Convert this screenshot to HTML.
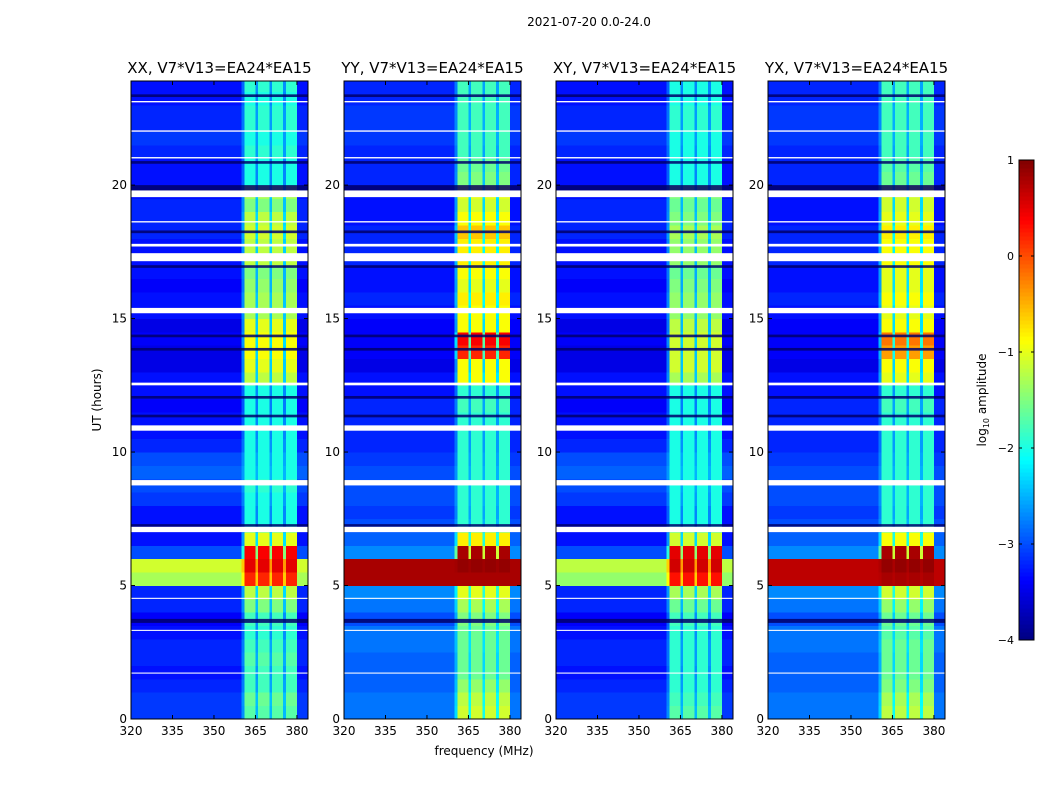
<!DOCTYPE html>
<html><head><meta charset="utf-8"><style>
body{margin:0;background:#fff;font-family:"Liberation Sans",sans-serif}
svg text{font-family:"DejaVu Sans","Liberation Sans",sans-serif}
</style></head><body>
<svg id="fig" width="1050" height="800" xmlns="http://www.w3.org/2000/svg">
<rect width="1050" height="800" fill="#fff"/>
<text x="589" y="26" font-size="12" text-anchor="middle">2021-07-20 0.0-24.0</text>
<text x="484" y="755" font-size="12" text-anchor="middle">frequency (MHz)</text>
<text transform="translate(101,400) rotate(-90)" font-size="12" text-anchor="middle">UT (hours)</text>
<text transform="translate(986,400) rotate(-90)" font-size="12" text-anchor="middle">log<tspan font-size="8" dy="3">10</tspan><tspan dy="-3"> amplitude</tspan></text>
<g id="panels"></g>
<g id="cbar"></g>
</svg>
<script>
// ---- data ----
const panelTitles = ["XX, V7*V13=EA24*EA15","YY, V7*V13=EA24*EA15","XY, V7*V13=EA24*EA15","YX, V7*V13=EA24*EA15"];
const xTicks = [320,335,350,365,380];
const yTicks = [0,5,10,15,20];
const cbTicks = [1,0,-1,-2,-3,-4];
// frequency bins 320..384 MHz (1 MHz), RFI band profile
const bandProfile = [0,0,0,0,0,0,0,0,0,0, 0,0,0,0,0,0,0,0,0,0, 0,0,0,0,0,0,0,0,0,0, 0,0,0,0,0,0,0,0,0,0,
  0.3,1,1,1,1,0.45,1,1,1,1, 0.45,1,1,1,1,0.45,1,1,1,1, 0,0,0,0];
// time bins of 0.5 h, 0..24
const bandXX = [-1.7,-1.6,-1.8,-1.8,-1.7,-1.8,-1.9,-1.8,-1.5,-1.2,0.2,0.5,0.4,-1.0,-2.0,-2.0,-2.0,-1.9,-2.0,-2.0,-2.0,-2.0,-2.0,-2.0,-2.0,-1.2,-1.0,-0.9,-0.9,-1.0,-1.3,-1.3,-1.4,-1.5,-1.2,-1.2,-1.1,-1.2,-1.5,-1.3,-2.0,-2.0,-1.9,-2.0,-1.9,-1.9,-2.0,-1.9];
const bandYY = [-1.1,-1.2,-1.4,-1.6,-1.6,-1.6,-1.6,-1.5,-1.3,-1.0,0.8,0.9,0.8,-0.8,-1.9,-1.9,-1.9,-1.9,-1.9,-1.9,-1.9,-1.9,-1.9,-1.8,-1.9,-0.9,-0.9,0.2,0.4,-0.9,-0.9,-0.8,-1.0,-0.9,-0.8,-0.8,-0.6,-0.9,-1.1,-1.0,-1.5,-1.6,-1.8,-1.8,-1.8,-1.8,-1.8,-1.8];
const bandXY = [-1.7,-1.8,-1.9,-1.9,-1.9,-1.9,-1.9,-1.8,-1.6,-1.3,0.3,0.6,0.5,-1.1,-2.0,-2.0,-2.0,-2.0,-2.0,-2.0,-2.0,-2.0,-2.0,-2.0,-2.0,-1.3,-1.1,-1.1,-1.1,-1.2,-1.4,-1.4,-1.5,-1.6,-1.4,-1.4,-1.3,-1.5,-1.6,-1.5,-2.0,-2.0,-2.0,-2.0,-1.9,-1.9,-2.0,-2.0];
const bandYX = [-1.2,-1.3,-1.5,-1.6,-1.6,-1.6,-1.7,-1.6,-1.4,-1.1,0.8,0.9,0.8,-0.9,-1.9,-1.9,-1.9,-1.9,-1.9,-1.9,-1.9,-1.9,-1.9,-1.8,-1.9,-1.0,-0.9,-0.4,-0.2,-0.9,-1.0,-0.9,-1.0,-1.0,-0.9,-0.9,-0.8,-1.0,-1.1,-1.1,-1.6,-1.7,-1.8,-1.8,-1.8,-1.8,-1.8,-1.8];
const bgXX = [-3.1,-3.1,-3.2,-3.3,-3.2,-3.2,-3.3,-3.4,-3.2,-3.2,-1.3,-1.1,-3.0,-3.3,-3.3,-3.3,-3.1,-3.0,-2.9,-3.0,-3.2,-3.3,-3.3,-3.4,-3.3,-3.3,-3.5,-3.5,-3.4,-3.5,-3.3,-3.3,-3.4,-3.3,-3.3,-3.3,-3.2,-3.2,-3.2,-3.3,-3.3,-3.3,-3.2,-3.1,-3.2,-3.2,-3.3,-3.3];
const bgYY = [-2.8,-2.8,-2.9,-2.9,-2.9,-2.8,-2.8,-3.0,-2.8,-2.7,0.8,0.8,-2.7,-2.9,-3.0,-3.1,-3.0,-3.0,-3.0,-3.1,-3.2,-3.2,-3.2,-3.2,-3.3,-3.3,-3.5,-3.4,-3.4,-3.4,-3.3,-3.2,-3.3,-3.3,-3.2,-3.2,-3.2,-3.3,-3.3,-3.3,-3.2,-3.2,-3.2,-3.1,-3.1,-3.1,-3.2,-3.2];
const bgXY = [-3.1,-3.1,-3.2,-3.3,-3.2,-3.2,-3.3,-3.4,-3.2,-3.2,-1.4,-1.2,-3.0,-3.3,-3.3,-3.3,-3.1,-3.0,-2.9,-3.0,-3.2,-3.3,-3.3,-3.4,-3.3,-3.3,-3.5,-3.5,-3.4,-3.5,-3.3,-3.3,-3.4,-3.3,-3.3,-3.3,-3.2,-3.2,-3.2,-3.3,-3.3,-3.3,-3.2,-3.1,-3.2,-3.2,-3.3,-3.3];
const bgYX = [-2.8,-2.8,-2.9,-2.9,-2.9,-2.8,-2.8,-3.0,-2.8,-2.7,0.7,0.7,-2.7,-2.9,-3.0,-3.1,-3.0,-3.0,-3.0,-3.1,-3.2,-3.2,-3.2,-3.2,-3.3,-3.3,-3.5,-3.4,-3.4,-3.4,-3.3,-3.2,-3.3,-3.3,-3.2,-3.2,-3.2,-3.3,-3.3,-3.3,-3.2,-3.2,-3.2,-3.1,-3.1,-3.1,-3.2,-3.2];
// flagged (white) time ranges [start,end] hours
const flagStart = [7.0,8.75,10.8,12.5,15.2,17.15,17.7,19.55,18.6,21.0,22.0,23.1,3.3,4.5,1.7];
const flagEnd   = [7.2,8.95,11.0,12.6,15.4,17.45,17.8,19.8,18.65,21.05,22.05,23.15,3.34,4.54,1.74];
// dark (dropout) time ranges
const darkStart = [3.6,7.2,11.3,12.0,13.8,14.3,18.2,19.8,20.8,23.3,16.9];
const darkEnd   = [3.75,7.3,11.4,12.1,13.9,14.4,18.3,20.0,20.9,23.4,17.0];
const bandLevels = [bandXX,bandYY,bandXY,bandYX];
const bgLevels = [bgXX,bgYY,bgXY,bgYX];

// ---- layout ----
const panelX = [131,344,556,768], panelW = 177, plotTop = 81, plotBot = 719;
const fMin = 320, fMax = 384, tMax = 23.9;
const NS = "http://www.w3.org/2000/svg";
function jet(v){ // v in [-4,1]
  let t = Math.max(0,Math.min(1,(v+4)/5));
  const f = (x)=>Math.max(0,Math.min(1,1.5-Math.abs(4*t-x)));
  const c = [f(3),f(2),f(1)].map(x=>Math.round(x*255));
  return `rgb(${c[0]},${c[1]},${c[2]})`;
}
function mk(tag, attrs, parent){const e=document.createElementNS(NS,tag);for(const k in attrs)e.setAttribute(k,attrs[k]);parent.appendChild(e);return e;}
const panels = document.getElementById('panels');
panelX.forEach((px,p)=>{
  const xs = f => px + (f-fMin)/(fMax-fMin)*panelW;
  const ys = t => plotBot - t/tMax*(plotBot-plotTop);
  const g = mk('g',{},panels);
  
  
  const hm = mk('g',{'shape-rendering':'crispEdges'},g);
  
  
  const band = bandLevels[p], bg = bgLevels[p];
  for(let r=0;r<band.length;r++){
    const t0=r*0.5, t1=Math.min(tMax,(r+1)*0.5);
    for(let c=0;c<bandProfile.length;c++){
      const v = bg[r] + bandProfile[c]*(band[r]-bg[r]);
      const el = mk('rect',{x:xs(fMin+c),y:ys(t1),width:xs(fMin+c+1)-xs(fMin+c)+0.4,height:ys(t0)-ys(t1)+0.4,fill:jet(v)},hm);
      
      
    }
  }
  for(let i=0;i<darkStart.length;i++){
    const el=mk('rect',{x:px,y:ys(darkEnd[i]),width:panelW,height:ys(darkStart[i])-ys(darkEnd[i]),fill:'#00006a',opacity:0.85},g);
    
    
  }
  for(let i=0;i<flagStart.length;i++){
    const el=mk('rect',{x:px,y:ys(flagEnd[i]),width:panelW,height:ys(flagStart[i])-ys(flagEnd[i]),fill:'#fff'},g);
    
    
  }
  const fr=mk('rect',{x:px,y:plotTop,width:panelW,height:plotBot-plotTop,fill:'none',stroke:'#000','stroke-width':1},g);
  
  
  const tt=mk('text',{x:px+panelW/2,y:plotTop-8,'font-size':'15','text-anchor':'middle'},g);
  tt.textContent=panelTitles[p];
  
  
  xTicks.forEach(f=>{
    mk('line',{x1:xs(f),x2:xs(f),y1:plotBot,y2:plotBot-4,stroke:'#000'},g);
    mk('line',{x1:xs(f),x2:xs(f),y1:plotTop,y2:plotTop+4,stroke:'#000'},g);
    const l=mk('text',{x:xs(f),y:plotBot+16,'font-size':'12','text-anchor':'middle'},g);
    l.textContent=f;
    
    
  });
  yTicks.forEach(t=>{
    mk('line',{x1:px,x2:px+4,y1:ys(t),y2:ys(t),stroke:'#000'},g);
    mk('line',{x1:px+panelW,x2:px+panelW-4,y1:ys(t),y2:ys(t),stroke:'#000'},g);
    const l=mk('text',{x:px-4,y:ys(t)+4,'font-size':'12','text-anchor':'end'},g);
    l.textContent=t;
    
    
  });
});
// colorbar
const cb=document.getElementById('cbar');
const cbX=1019,cbW=15,cbTop=160,cbBot=640;
const cs = v => cbBot-(v+4)/5*(cbBot-cbTop);
const grad=mk('g',{'shape-rendering':'crispEdges'},cb);


for(let i=0;i<120;i++){
  const v0=-4+i*5/120, v1=-4+(i+1)*5/120;
  mk('rect',{x:cbX,y:cs(v1),width:cbW,height:cs(v0)-cs(v1)+0.5,fill:jet((v0+v1)/2)},grad);
}
mk('rect',{x:cbX,y:cbTop,width:cbW,height:cbBot-cbTop,fill:'none',stroke:'#000'},cb);
cbTicks.forEach(v=>{
  mk('line',{x1:cbX,x2:cbX+3,y1:cs(v),y2:cs(v),stroke:'#000'},cb);
  mk('line',{x1:cbX+cbW,x2:cbX+cbW-3,y1:cs(v),y2:cs(v),stroke:'#000'},cb);
  const l=mk('text',{x:cbX-5,y:cs(v)+4,'font-size':'11','text-anchor':'end'},cb);
  l.textContent = v<0 ? '\u2212'+(-v) : v;
  
  
});
</script>
</body></html>
